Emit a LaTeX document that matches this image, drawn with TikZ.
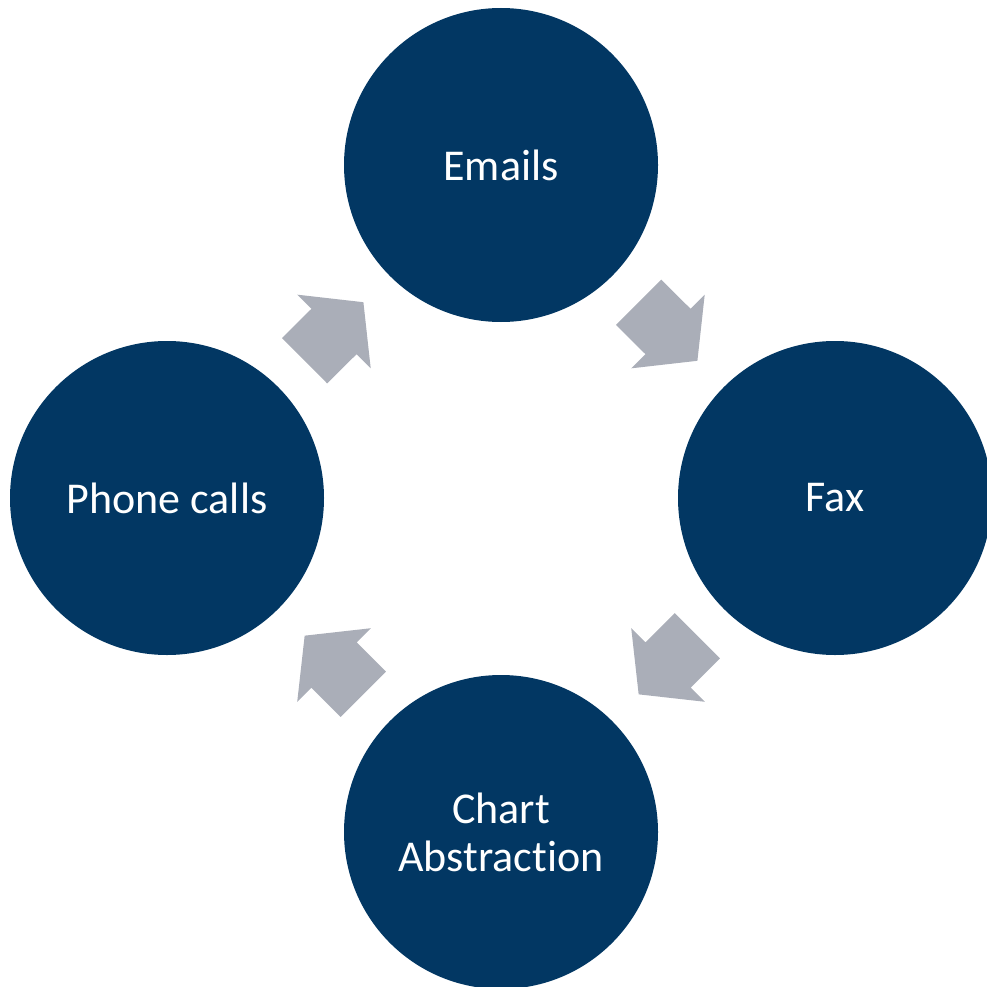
\documentclass[tikz,border=0pt]{standalone}
\usepackage{fontspec}
\setmainfont[Ligatures=NoCommon]{Carlito}
\usetikzlibrary{calc}
\definecolor{hubblue}{RGB}{2,55,99}
\definecolor{flowgray}{RGB}{170,174,184}
\tikzset{
  stage/.style={circle, fill=hubblue, draw=none, minimum size=314pt, inner sep=0pt,
    text=white, align=center, font=\fontsize{44}{48}\selectfont},
  flowarrow/.style={fill=flowgray, draw=none}
}
% block arrow centred between two stages, pointing from #1 to #2
\newcommand{\blockarrow}[2]{%
  \fill[flowarrow] let \p1=($(#2)-(#1)$), \n1={atan2(\y1,\x1)} in
    [shift={($(#1)!0.5!(#2)$)}, rotate=\n1]
    (-41.5,32) -- (0,32) -- (0,52) -- (41.5,0) -- (0,-52) -- (0,-32) -- (-41.5,-32) -- cycle;%
}
\begin{document}
\begin{tikzpicture}[x=1pt, y=-1pt]
  \useasboundingbox (0,0) rectangle (987,987);
  \clip (0,0) rectangle (987,987);
  \node[stage] (em) at (501,165) {Emails};
  \node[stage] (fx) at (835,498) {Fax};
  \node[stage] (ca) at (501,832) {Chart\\Abstraction};
  \node[stage] (pc) at (167,498) {Phone calls};
  \blockarrow{em}{fx}
  \blockarrow{fx}{ca}
  \blockarrow{ca}{pc}
  \blockarrow{pc}{em}
\end{tikzpicture}
\end{document}
